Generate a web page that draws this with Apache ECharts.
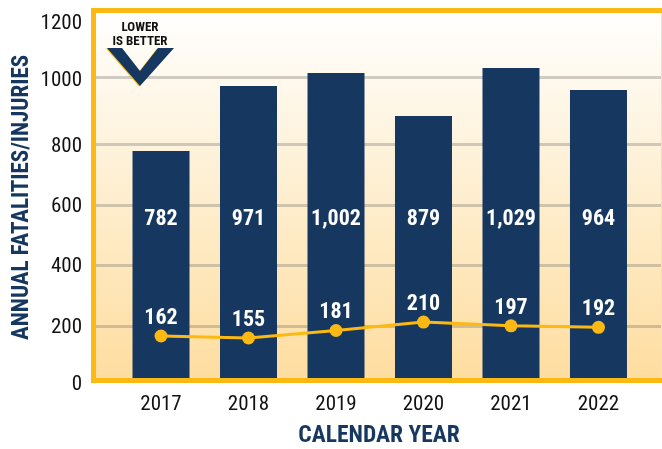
<!DOCTYPE html>
<html><head><meta charset="utf-8">
<style>html,body{margin:0;padding:0;background:#fff}#c{width:662px;height:449px}</style>
<script src="https://cdn.jsdelivr.net/npm/echarts@6/dist/echarts.min.js"></script>
</head><body><div id="c"></div>
<script>
const categories = ['2017','2018','2019','2020','2021','2022'];
const injuryLabels = [782,971,1002,879,1029,964];      // printed on the bars
const barLevels = [757,973,1017,873,1033,960];         // bar heights as drawn, read against the axis
const fatalities = [162,155,181,210,197,192];
const tickLabels = ['0','200','400','600','800','1000','1200'];
// the reference's gridlines are not evenly placed: where each label and line really sits on the bar scale
const labelPlaces = [-23,166,370,570,770,990,1180];
const gridPlaces = [172,377,577,780,1001];
const NAVY='#16375F', GOLD='#FDB913', FONT='Roboto';
const years = categories.map(Number);
const navyV = [[107,48],[122,48],[140,71],[158,48],[174,48],[140,86]];
const chart = echarts.init(document.getElementById('c'));
chart.setOption({
  animation:false,
  backgroundColor:'#fff',
  grid:{left:96,right:0,top:18,bottom:62,outerBoundsMode:'none'},
  graphic:[
    {type:'rect',z:-10,silent:true,shape:{x:93.5,y:10.5,width:570,height:370},
      style:{fill:new echarts.graphic.LinearGradient(0,0,0,1,[{offset:0,color:'#FFFFFF'},{offset:1,color:'#FEDD9F'}])}},
    {type:'rect',z:100,silent:true,shape:{x:93.5,y:10.5,width:575,height:370},style:{fill:'none',stroke:GOLD,lineWidth:5}},
    {type:'rect',z:100,silent:true,shape:{x:661,y:13,width:1,height:365},style:{fill:'#FBE3A8'}},
    {type:'polygon',z:50,silent:true,shape:{points:navyV.map(p=>[p[0]-1,p[1]+0.6])},style:{fill:GOLD}},
    {type:'polygon',z:51,silent:true,shape:{points:navyV},style:{fill:NAVY}},
    {type:'text',z:52,silent:true,style:{x:140,y:21,text:'LOWER',fill:'#111',font:'bold condensed 13px Roboto',textAlign:'center'}},
    {type:'text',z:52,silent:true,style:{x:140,y:35,text:'IS BETTER',fill:'#111',font:'bold condensed 13px Roboto',textAlign:'center'}},
    {type:'text',z:52,silent:true,rotation:Math.PI/2,x:22,y:340,style:{x:0,y:0,text:'ANNUAL FATALITIES/INJURIES',fill:NAVY,font:'bold condensed 23px Roboto',textAlign:'left',textVerticalAlign:'middle'},originX:0,originY:0}
  ],
  xAxis:{type:'value',min:2016.257,max:2022.726,splitLine:{show:false},
    axisLine:{show:false},axisTick:{show:false},
    axisLabel:{customValues:years,color:'#111',fontSize:21,fontFamily:FONT,fontWeight:'condensed',margin:7,formatter:v=>String(v)},
    name:'CALENDAR YEAR',nameLocation:'middle',nameGap:37,
    nameTextStyle:{color:NAVY,fontSize:23.5,fontWeight:'bold condensed',fontFamily:FONT}},
  yAxis:[
    {type:'value',min:-30,max:1200,
     axisLine:{show:false},
     axisTick:{show:false,customValues:gridPlaces},
     splitLine:{show:true,lineStyle:{color:'rgba(100,100,100,0.3)',width:3}},
     axisLabel:{customValues:labelPlaces,color:'#111',fontSize:21,fontFamily:FONT,fontWeight:'condensed',margin:14,
       formatter:v=>tickLabels[labelPlaces.indexOf(v)]}},
    {type:'value',min:-14,max:1259,show:false,splitLine:{show:false}}
  ],
  series:[
    {type:'bar',name:'Injuries',data:years.map((y,i)=>[y,barLevels[i]]),barWidth:57,itemStyle:{color:NAVY},
     label:{show:true,position:'insideBottom',distance:148,color:'#fff',fontSize:22,fontWeight:'bold condensed',fontFamily:FONT,
       formatter:p=>injuryLabels[p.dataIndex].toLocaleString('en-US')}},
    {type:'line',name:'Fatalities',yAxisIndex:1,data:years.map((y,i)=>[y,fatalities[i]]),symbol:'circle',symbolSize:13,
     lineStyle:{color:GOLD,width:3},itemStyle:{color:GOLD},
     label:{show:true,position:'top',distance:0,color:'#fff',fontSize:22,fontWeight:'bold condensed',fontFamily:FONT,formatter:p=>p.value[1]}}
  ]
});
</script></body></html>
